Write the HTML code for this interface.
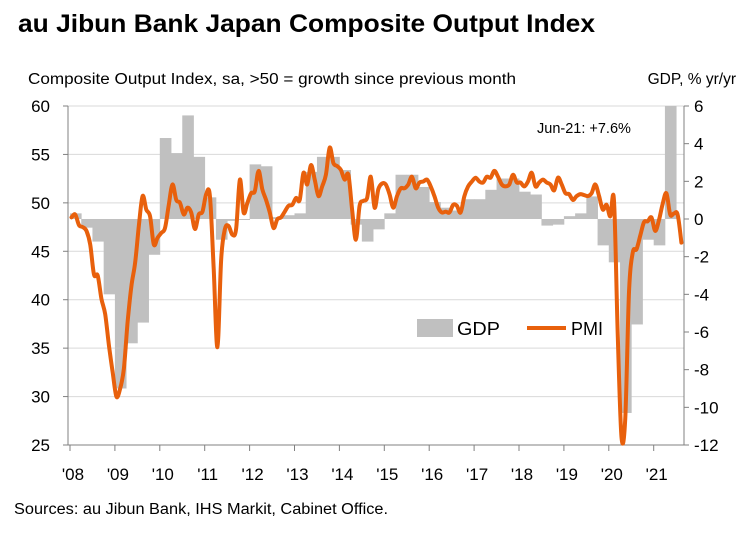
<!DOCTYPE html>
<html><head><meta charset="utf-8"><style>
body{margin:0;background:#fff;}
svg text{font-family:"Liberation Sans",sans-serif;}
</style></head><body>
<svg width="744" height="533" xmlns="http://www.w3.org/2000/svg">
<text x="18" y="32" font-size="25" font-weight="bold" fill="#000" textLength="577" lengthAdjust="spacingAndGlyphs">au Jibun Bank Japan Composite Output Index</text>
<text x="28" y="84" font-size="15.5" fill="#000" textLength="488" lengthAdjust="spacingAndGlyphs">Composite Output Index, sa, &gt;50 = growth since previous month</text>
<text x="736" y="84" font-size="15.5" fill="#000" text-anchor="end">GDP, % yr/yr</text>
<g id="grid"></g>
<g id="bars"></g>
<g id="axes"></g>
<path id="pmi" fill="none" stroke="#e8600c" stroke-width="4" stroke-linejoin="round" stroke-linecap="round"/>
<text x="537" y="133" font-size="14.5" fill="#000">Jun-21: +7.6%</text>
<rect x="417" y="319" width="36" height="18" fill="#c0c0c0"/>
<text x="457" y="335" font-size="18" fill="#000" textLength="43" lengthAdjust="spacingAndGlyphs">GDP</text>
<line x1="527" y1="328" x2="566" y2="328" stroke="#e8600c" stroke-width="4"/>
<text x="571" y="335" font-size="18" fill="#000">PMI</text>
<text x="14" y="514" font-size="15.5" fill="#000" textLength="374" lengthAdjust="spacingAndGlyphs">Sources: au Jibun Bank, IHS Markit, Cabinet Office.</text>
</svg>
<script>
const leftTicks=[60,55,50,45,40,35,30,25];
const rightTicks=[6,4,2,0,-2,-4,-6,-8,-10,-12];
const yearLabels=["'08","'09","'10","'11","'12","'13","'14","'15","'16","'17","'18","'19","'20","'21"];
const gdpValues=[0.3,-0.46,-1.2,-4.0,-9.0,-6.6,-5.5,-1.9,4.3,3.5,5.5,3.3,1.15,-1.1,-0.1,0.0,2.9,2.8,0.1,0.2,0.3,2.5,3.3,3.3,2.6,-0.3,-1.2,-0.55,0.3,2.35,2.35,1.7,0.9,0.6,0.45,1.05,1.05,1.55,2.15,2.15,1.45,1.3,-0.35,-0.3,0.15,0.3,1.2,-1.4,-2.3,-10.3,-5.6,-1.1,-1.4,7.6];
const pmiValues=[48.5,48.8,47.7,47.5,47.1,45.7,42.6,42.5,40.1,38.5,35.3,32.5,
30.0,30.8,32.9,37.7,41.4,43.8,47.6,50.7,49.3,48.6,45.7,46.4,
46.9,47.4,49.8,51.9,50.3,50.0,48.8,49.5,49.0,47.3,48.8,49.1,
50.9,50.7,43.2,35.1,44.2,47.3,47.6,46.7,47.3,52.4,49.0,50.0,
51.0,51.2,53.3,51.4,50.3,49.0,47.4,48.3,48.5,49.1,49.7,49.8,
50.5,50.3,53.1,51.9,53.9,52.4,50.7,51.7,52.9,55.7,54.1,53.8,
53.4,52.4,52.9,49.3,46.2,49.7,50.2,50.5,52.7,49.5,51.4,52.0,
51.9,50.9,49.5,50.7,51.5,51.5,51.9,52.7,51.5,52.1,52.2,52.4,
51.7,50.7,49.5,49.0,49.1,49.0,49.8,49.7,49.0,50.7,51.7,52.2,
52.6,52.2,52.1,52.7,52.6,53.3,52.7,51.9,51.7,51.9,52.9,52.1,
52.1,51.7,52.2,53.1,51.7,52.1,52.4,52.1,51.9,51.3,52.6,51.9,
51.0,50.9,50.3,50.7,50.9,50.8,50.7,51.0,51.9,50.7,49.3,49.8,
48.6,50.2,36.2,25.8,27.8,40.8,44.9,45.2,46.6,48.0,48.1,48.5,
47.1,48.2,49.9,51.0,48.8,48.9,48.8,45.9];
const NS="http://www.w3.org/2000/svg";
const X0=70,YW=44.9,PL=68,PR=684,PT=106,PB=445;
const yL=v=>PT+(60-v)*(PB-PT)/35;
const yR=v=>PT+(6-v)*(PB-PT)/18;
const xYear=y=>X0+y*YW;
function mk(tag,attrs,parent){const e=document.createElementNS(NS,tag);for(const k in attrs)e.setAttribute(k,attrs[k]);parent.appendChild(e);return e;}
const grid=document.getElementById('grid'),axes=document.getElementById('axes'),bars=document.getElementById('bars');
leftTicks.forEach(v=>{
  if(v>25){const g=mk('line',{x1:PL,x2:PR,y1:yL(v),y2:yL(v),stroke:'#d9d9d9','stroke-width':1},grid);
  
  }
  const tk=mk('line',{x1:PL-5,x2:PL,y1:yL(v),y2:yL(v),stroke:'#808080'},axes);
  
  
  const t=mk('text',{x:50,y:yL(v)+6,'font-size':17,'text-anchor':'end',fill:'#000'},axes);
  t.textContent=v;
  
  
});
rightTicks.forEach(v=>{
  const tk=mk('line',{x1:PR,x2:PR+5,y1:yR(v),y2:yR(v),stroke:'#808080'},axes);
  
  
  const t=mk('text',{x:694,y:yR(v)+6,'font-size':17,fill:'#000'},axes);
  t.textContent=v;
  
  
});
const qw=YW/4;
gdpValues.forEach((v,i)=>{
  const x=xYear(i/4);const vv=Math.min(v,6);
  const y1=yR(Math.max(vv,0)),y2=yR(Math.min(vv,0));
  const r=mk('rect',{x:x,y:y1,width:qw+0.4,height:Math.max(y2-y1,1),fill:'#c0c0c0'},bars);
  
  
});
mk('line',{x1:PL,x2:PL,y1:PT,y2:PB,stroke:'#808080'},axes);
mk('line',{x1:PR,x2:PR,y1:PT,y2:PB,stroke:'#808080'},axes);
mk('line',{x1:PL-5,x2:PR,y1:PB,y2:PB,stroke:'#808080'},axes);
yearLabels.forEach((l,i)=>{
  const x=xYear(i);
  mk('line',{x1:x,x2:x,y1:PB,y2:PB+6,stroke:'#808080'},axes);
  const t=mk('text',{x:x+3,y:480,'font-size':17,'text-anchor':'middle',fill:'#000'},axes);
  t.textContent=l;
  
  
});
const pts=pmiValues.map((v,i)=>[X0+1.5+i*YW/12,yL(v)]);
let d='M'+pts[0][0].toFixed(1)+','+pts[0][1].toFixed(1);
for(let i=0;i<pts.length-1;i++){
  const p0=pts[Math.max(i-1,0)],p1=pts[i],p2=pts[i+1],p3=pts[Math.min(i+2,pts.length-1)];
  const c1=[p1[0]+(p2[0]-p0[0])/6,p1[1]+(p2[1]-p0[1])/6];
  const c2=[p2[0]-(p3[0]-p1[0])/6,p2[1]-(p3[1]-p1[1])/6];
  d+='C'+c1[0].toFixed(1)+','+c1[1].toFixed(1)+' '+c2[0].toFixed(1)+','+c2[1].toFixed(1)+' '+p2[0].toFixed(1)+','+p2[1].toFixed(1);
}
document.getElementById('pmi').setAttribute('d',d);
</script>
</body></html>
